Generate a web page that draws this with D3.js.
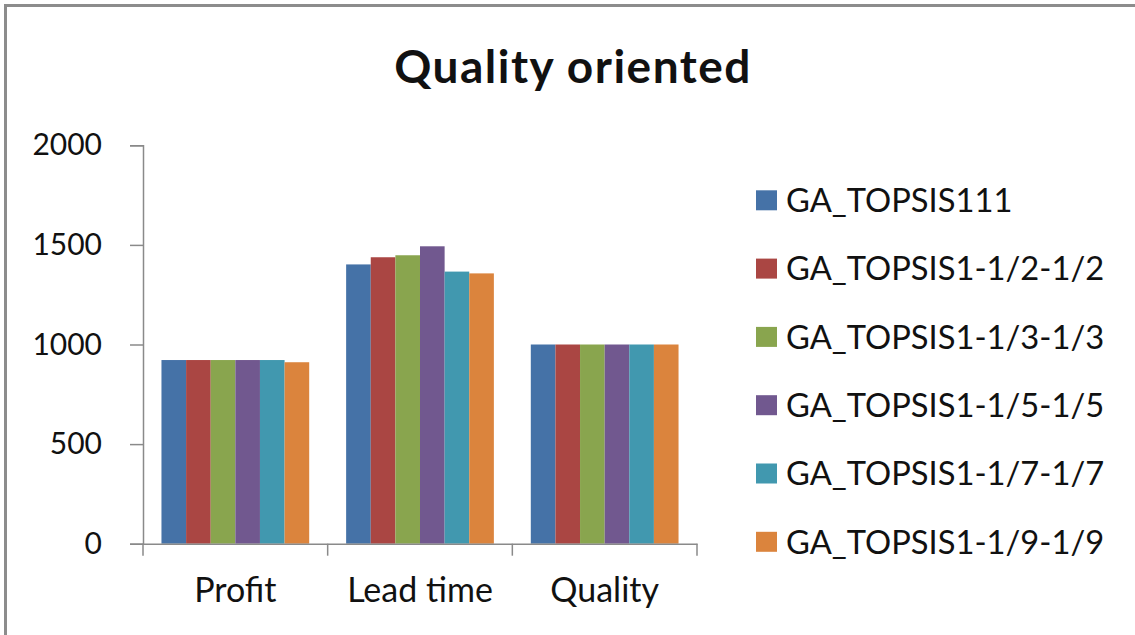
<!DOCTYPE html>
<html>
<head>
<meta charset="utf-8">
<script src="https://cdn.jsdelivr.net/npm/d3@7"></script>
<style>
  html, body { margin: 0; padding: 0; background: #fff; }
  svg { display: block; }
  text { font-family: "Lato", "Open Sans", sans-serif; fill: #111; }
</style>
</head>
<body>
<svg id="chart" width="1135" height="635"></svg>
<script>
// Criteria on the x axis
const categories = ["Profit", "Lead time", "Quality"];

// One series per weighting scheme
const seriesNames = [
  "GA_TOPSIS111",
  "GA_TOPSIS1-1/2-1/2",
  "GA_TOPSIS1-1/3-1/3",
  "GA_TOPSIS1-1/5-1/5",
  "GA_TOPSIS1-1/7-1/7",
  "GA_TOPSIS1-1/9-1/9"
];

// Values per series, in category order
const ga111   = [922, 1402, 1000];
const ga1_2   = [922, 1438, 1000];
const ga1_3   = [922, 1448, 1000];
const ga1_5   = [922, 1493, 1000];
const ga1_7   = [922, 1366, 1000];
const ga1_9   = [911, 1357, 1000];
const seriesValues = [ga111, ga1_2, ga1_3, ga1_5, ga1_7, ga1_9];

const yTicks = [0, 500, 1000, 1500, 2000];
const colors = ["#4572a7", "#aa4643", "#89a54e", "#71588f", "#4198af", "#db843d"];

const svg = d3.select("#chart");

// Frame lines along the top and left edges
svg.append("line").attr("x1", 5.5).attr("x2", 1135).attr("y1", 5.5).attr("y2", 5.5)
  .attr("stroke", "#8c8c8c").attr("stroke-width", 3);
svg.append("line").attr("x1", 5.5).attr("x2", 5.5).attr("y1", 4).attr("y2", 635)
  .attr("stroke", "#8c8c8c").attr("stroke-width", 3);

// Title
svg.append("text")
  .attr("x", 573).attr("y", 83)
  .attr("text-anchor", "middle")
  .style("font-size", "46px").style("font-weight", "bold")
  .style("letter-spacing", "1.5px")
  .text("Quality oriented");

const plot = { left: 143, right: 697, top: 145.3, bottom: 543.7 };

const x0 = d3.scaleBand().domain(categories).range([plot.left, plot.right]).padding(0);
const x1 = d3.scaleBand().domain(d3.range(seriesNames.length))
  .range([0, x0.bandwidth()]).paddingInner(0).paddingOuter(0.75);
const y = d3.scaleLinear().domain([0, 2000]).range([plot.bottom, plot.top]);

// Bars
const groups = svg.append("g").selectAll("g")
  .data(categories)
  .join("g")
  .attr("transform", c => `translate(${x0(c)},0)`);

groups.selectAll("rect")
  .data((c, ci) => seriesValues.map((vals, si) => ({ si, v: vals[ci] })))
  .join("rect")
  .attr("x", d => x1(d.si))
  .attr("width", x1.bandwidth())
  .attr("y", d => y(d.v))
  .attr("height", d => y(0) - y(d.v))
  .attr("fill", d => colors[d.si]);

// Y axis
const yAxis = svg.append("g")
  .attr("transform", `translate(${plot.left},0)`)
  .call(d3.axisLeft(y).tickValues(yTicks).tickSize(13).tickPadding(28).tickFormat(d3.format("d")));
yAxis.select(".domain").attr("stroke", "#8a8a8a").attr("stroke-width", 1.5);
yAxis.selectAll(".tick line").attr("stroke", "#8a8a8a").attr("stroke-width", 1.5);
yAxis.selectAll(".tick text").style("font-size", "30px").style("font-family", "Lato, sans-serif").attr("fill", "#111");

// X axis: labels centred in each band, ticks on the band boundaries
const xAxis = svg.append("g")
  .attr("transform", `translate(0,${plot.bottom})`)
  .call(d3.axisBottom(x0).tickSize(0).tickPadding(34));
xAxis.select(".domain").attr("stroke", "#8a8a8a").attr("stroke-width", 1.5);
xAxis.selectAll(".tick text").style("font-size", "34px").style("font-family", "Lato, sans-serif").attr("fill", "#111");
const boundaries = categories.map(c => x0(c)).concat([x0(categories[categories.length - 1]) + x0.bandwidth()]);
xAxis.selectAll("line.bound")
  .data(boundaries)
  .join("line")
  .attr("class", "bound")
  .attr("x1", d => d).attr("x2", d => d)
  .attr("y1", 0).attr("y2", 12)
  .attr("stroke", "#8a8a8a").attr("stroke-width", 1.5);

// Legend
const legend = svg.append("g").selectAll("g")
  .data(seriesNames)
  .join("g")
  .attr("transform", (d, i) => `translate(756,${200.3 + i * 68.3})`);
legend.append("rect")
  .attr("x", 0).attr("y", -10).attr("width", 21).attr("height", 20)
  .attr("fill", (d, i) => colors[i]);
legend.append("text")
  .attr("x", 30).attr("y", 0).attr("dy", "0.36em")
  .style("font-size", "32.7px")
  .text(d => d);
</script>
</body>
</html>
